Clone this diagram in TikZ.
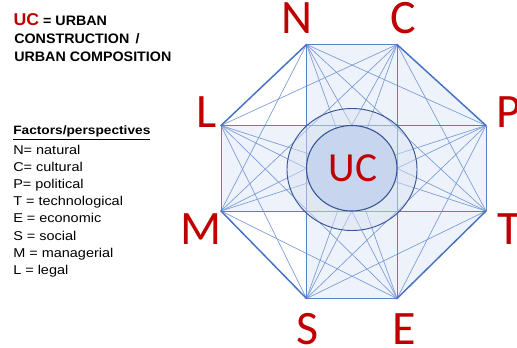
\documentclass[tikz,border=0pt]{standalone}
\usepackage{fontspec}
\setmainfont{Liberation Sans}
\newfontfamily\carlito{Carlito}
\newfontfamily\listfont[FakeStretch=1.13]{Liberation Sans}
\newfontfamily\headfont[FakeStretch=1.04]{Liberation Sans}
\definecolor{ucred}{RGB}{192,0,0}
\definecolor{edgeblue}{RGB}{68,114,196}
\definecolor{crossblue}{RGB}{92,128,196}
\definecolor{chordblue}{RGB}{122,155,216}
\definecolor{ringblue}{RGB}{52,84,150}
\definecolor{armfill}{RGB}{238,242,250}
\definecolor{sqfill}{RGB}{229,235,246}
\definecolor{ringfill}{RGB}{218,227,243}
\definecolor{ucfill}{RGB}{200,213,238}
\tikzset{
  octedge/.style={draw=edgeblue, line width=1.1pt, line cap=round},
  crossline/.style={draw=crossblue, line width=0.75pt},
  chord/.style={draw=chordblue, line width=0.5pt},
  vline/.style={draw=chordblue, line width=0.5pt},
  letter/.style={text=ucred, font=\carlito\fontsize{36}{36}\selectfont, inner sep=0pt},
  listline/.style={anchor=base west, inner sep=0pt, font=\listfont\fontsize{9.6}{9.6}\selectfont},
  headline/.style={anchor=base west, inner sep=0pt, font=\headfont\bfseries\fontsize{10.3}{10.3}\selectfont}
}
\begin{document}
\begin{tikzpicture}[x=0.75pt,y=-0.75pt]
\useasboundingbox (0,0) rectangle (517,347);
% octagon vertices
\coordinate (N) at (306.5,44.5);
\coordinate (C) at (397,44.5);
\coordinate (P) at (486,125.5);
\coordinate (T) at (486,211);
\coordinate (E) at (397,298.5);
\coordinate (S) at (306.5,298.5);
\coordinate (M) at (221,211);
\coordinate (L) at (221,125.5);
% inner square corners
\coordinate (Q1) at (306.5,125.5);
\coordinate (Q2) at (397,125.5);
\coordinate (Q3) at (397,211);
\coordinate (Q4) at (306.5,211);
% inner square edge midpoints
\coordinate (MT) at (351.75,125.5);
\coordinate (MR) at (397,168.25);
\coordinate (MB) at (351.75,211);
\coordinate (ML) at (306.5,168.25);
\coordinate (O) at (351.75,168.25);
\coordinate (O2) at (352,169.5);
% fills
\fill[armfill] (N) -- (C) -- (E) -- (S) -- cycle;
\fill[armfill] (L) -- (P) -- (T) -- (M) -- cycle;
\fill[armfill] (C) -- (P) -- (Q2) -- cycle;
\fill[armfill] (T) -- (E) -- (Q3) -- cycle;
\fill[sqfill] (Q1) rectangle (Q3);
% chords
\foreach \a/\b in {N/P,N/T,N/E,N/M,C/T,C/S,C/M,C/L,P/E,P/S,P/M,T/S,T/L,E/M,E/L,S/L}
  \draw[chord] (\a) -- (\b);
\foreach \a/\b in {N/MT,C/MT,P/MR,T/MR,E/MB,S/MB,M/ML,L/ML}
  \draw[vline] (\a) -- (\b);
% cross lines
\draw[crossline] (N) -- (S);
\draw[crossline] (C) -- (E);
\draw[crossline] (L) -- (P);
\draw[crossline] (M) -- (T);
\draw[crossline] (N) -- (C);
\draw[crossline] (S) -- (E);
\draw[crossline] (L) -- (M);
\draw[crossline] (P) -- (T);
% octagon diagonal edges
\draw[octedge] (L) -- (N);
\draw[octedge] (C) -- (P);
\draw[octedge] (T) -- (E);
\draw[octedge] (S) -- (M);
% rings
\path[fill=ringfill, fill opacity=0.45, draw=ringblue, line width=0.7pt] (O2) ellipse [x radius=65, y radius=61];
\path[fill=ucfill, draw=ringblue, line width=0.8pt] (O) ellipse [x radius=45.25, y radius=42.75];
\node[text=ucred, font=\carlito\fontsize{31}{31}\selectfont, inner sep=0pt] (uc) at (353,168) {UC};
% factor letters
\node[letter] (lN) at (297,18) {N};
\node[letter] (lC) at (403,18) {C};
\node[letter] (lL) at (207,112.5) {L};
\node[letter] (lP) at (509,112.5) {P};
\node[letter] (lM) at (201,229) {M};
\node[letter] (lT) at (509,229) {T};
\node[letter] (lS) at (308,329.5) {S};
\node[letter] (lE) at (404,329.5) {E};
% heading text
\node[headline] (h1) at (13.3,25) {\textcolor{ucred}{\fontsize{12.8}{12.8}\selectfont UC} = URBAN};
\node[headline] (h2) at (14,43.3) {CONSTRUCTION \,/};
\node[headline] (h3) at (14,61.7) {URBAN COMPOSITION};
% legend
\node[listline, font=\listfont\bfseries\fontsize{9.1}{9.1}\selectfont] (fp) at (13,134.5) {\underline{Factors/perspectives}};
\node[listline] (f1) at (13,154) {N= natural};
\node[listline] (f2) at (13,171.2) {C= cultural};
\node[listline] (f3) at (13,188.4) {P= political};
\node[listline] (f4) at (13,205.6) {T = technological};
\node[listline] (f5) at (13,222.8) {E = economic};
\node[listline] (f6) at (13,240) {S = social};
\node[listline] (f7) at (13,257.2) {M = managerial};
\node[listline] (f8) at (13,274.4) {L = legal};
\end{tikzpicture}
\end{document}
